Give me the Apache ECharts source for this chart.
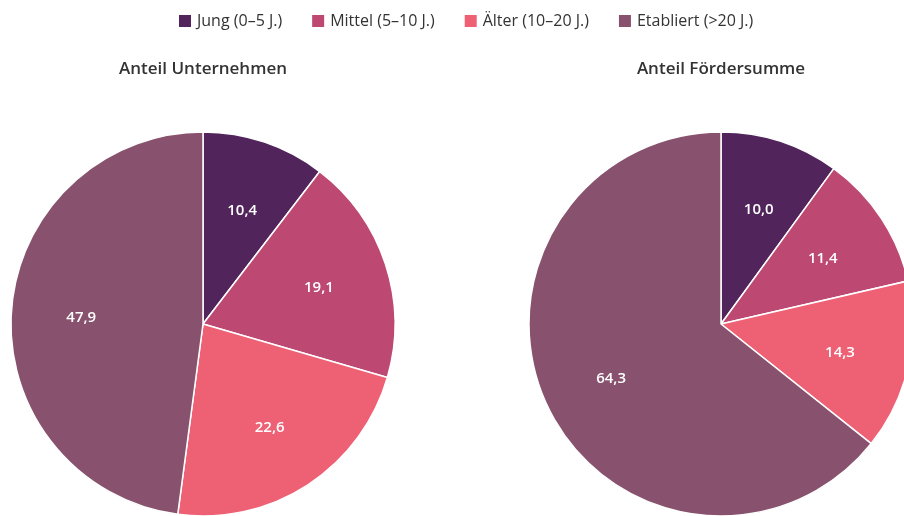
<!DOCTYPE html>
<html>
<head>
<meta charset="utf-8">
<script src="https://cdn.jsdelivr.net/npm/echarts@6/dist/echarts.min.js"></script>
<style>
  html, body { margin: 0; padding: 0; background: #fff; }
  #chart { width: 904px; height: 516px; }
</style>
</head>
<body>
<div id="chart"></div>
<script>
  var categories = ['Jung (0–5 J.)', 'Mittel (5–10 J.)', 'Älter (10–20 J.)', 'Etabliert (>20 J.)'];
  var colors = ['#51255c', '#bd4872', '#ee6175', '#88526e'];
  var anteilUnternehmen = [10.4, 19.1, 22.6, 47.9];
  var anteilFoerdersumme = [10.0, 11.4, 14.3, 64.3];
  var titles = ['Anteil Unternehmen', 'Anteil Fördersumme'];

  var font = '"Open Sans", "Noto Sans", sans-serif';
  var centers = [[203, 324], [721, 324]];
  var R = 192;

  function pieData(values) {
    return values.map(function (v, i) {
      return { name: categories[i], value: v, itemStyle: { color: colors[i] } };
    });
  }

  function fmt(p) {
    return p.value.toFixed(1).replace('.', ',');
  }

  var series = [];
  [anteilUnternehmen, anteilFoerdersumme].forEach(function (vals, k) {
    // the pie itself
    series.push({
      type: 'pie',
      center: centers[k],
      radius: [0, R],
      startAngle: 90,
      clockwise: true,
      silent: true,
      label: { show: false },
      labelLine: { show: false },
      itemStyle: { borderColor: '#fff', borderWidth: 1.5 },
      data: pieData(vals)
    });
    // invisible ring just to put the value labels a bit further out
    series.push({
      type: 'pie',
      center: centers[k],
      radius: [0, R * 1.24],
      startAngle: 90,
      clockwise: true,
      silent: true,
      legendHoverLink: false,
      itemStyle: { color: 'rgba(0,0,0,0)', borderWidth: 0 },
      label: {
        show: true,
        position: 'inside',
        formatter: fmt,
        color: '#fff',
        fontFamily: font,
        fontSize: 15,
        fontWeight: 600,
        offset: [0, 2]
      },
      labelLine: { show: false },
      data: vals.map(function (v, i) { return { name: categories[i] + ' ', value: v }; })
    });
  });

  var myChart = echarts.init(document.getElementById('chart'));
  myChart.setOption({
    animation: false,
    color: colors,
    title: titles.map(function (t, k) {
      return {
        text: t,
        left: centers[k][0] - 5,
        top: 56,
        textAlign: 'center',
        textStyle: { fontFamily: font, fontSize: 17, fontWeight: 600, color: '#333' }
      };
    }),
    legend: {
      data: categories,
      top: 8,
      left: 172,
      itemWidth: 14,
      itemHeight: 14,
      itemGap: 28,
      icon: 'rect',
      textStyle: { fontFamily: font, fontSize: 16, color: '#333' }
    },
    series: series
  });
</script>
</body>
</html>
